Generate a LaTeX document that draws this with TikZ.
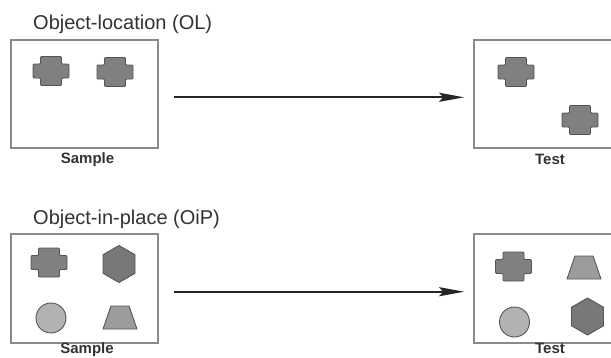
\documentclass[tikz,border=0pt]{standalone}
\usepackage{fontspec}
\setmainfont{Liberation Sans}
\usetikzlibrary{arrows.meta}

\definecolor{frame}{HTML}{8A8A8A}
\definecolor{edge}{HTML}{555555}
\definecolor{darkfill}{HTML}{808080}
\definecolor{hexfill}{HTML}{787878}
\definecolor{lightfill}{HTML}{B2B2B2}
\definecolor{trapfill}{HTML}{9C9C9C}
\definecolor{ink}{HTML}{333333}

\tikzset{
  panel/.style={draw=frame, line width=1.6pt, fill=white, inner sep=0pt},
  heading/.style={anchor=base west, inner sep=0pt, text=ink,
    font=\fontsize{20}{24}\selectfont},
  caption/.style={anchor=base, inner sep=0pt, text=ink,
    font=\fontsize{15}{18}\selectfont\bfseries},
  shapeline/.style={draw=edge, line width=0.9pt, line join=round},
  link/.style={draw=black!85, line width=2pt,
    -{Stealth[length=25pt,width=9pt,inset=4pt]}},
  pics/chip/.style={code={
    \path[shapeline, fill=darkfill, rounded corners=1pt]
      (-10.5,-14.5) -- (10.5,-14.5) -- (10.5,-7) -- (18,-7) -- (18,7)
      -- (10.5,7) -- (10.5,14.5) -- (-10.5,14.5) -- (-10.5,7) -- (-18,7)
      -- (-18,-7) -- (-10.5,-7) -- cycle;}},
  pics/hexa/.style={code={
    \path[shapeline, fill=hexfill]
      (0,-18.5) -- (16,-9.25) -- (16,9.25) -- (0,18.5) -- (-16,9.25)
      -- (-16,-9.25) -- cycle;}},
  pics/disc/.style={code={
    \path[shapeline, fill=lightfill] (0,0) circle[radius=15];}},
  pics/trap/.style={code={
    \path[shapeline, fill=trapfill]
      (-9,-11.5) -- (9,-11.5) -- (17,11.5) -- (-17,11.5) -- cycle;}},
}

\begin{document}
\begin{tikzpicture}[x=1pt, y=-1pt]
  \useasboundingbox[fill=white] (0,0) rectangle (611,357);

  % ---------- Object-location ----------
  \node[heading] (t-ol) at (33,29.3) {Object-location (OL)};
  \node[panel, minimum width=147pt, minimum height=108pt] (s1) at (84.5,94) {};
  \node[panel, minimum width=141pt, minimum height=108pt] (r1) at (544.5,94) {};
  \node[caption] (s1-cap) at (87.5,163.3) {Sample};
  \node[caption] (r1-cap) at (550,164) {Test};

  \pic at (51,71) {chip};
  \pic at (115,72) {chip};
  \pic at (516,72) {chip};
  \pic at (580,120) {chip};

  \draw[link, shorten <=15pt, shorten >=9pt]
    ([yshift=-3.3pt]s1.east) -- ([yshift=-3.3pt]r1.west);

  % ---------- Object-in-place ----------
  \node[heading] (t-oip) at (33,224.3) {Object-in-place (OiP)};
  \node[panel, minimum width=147pt, minimum height=109pt] (s2) at (84.5,288.5) {};
  \node[panel, minimum width=141pt, minimum height=109pt] (r2) at (544.5,288.5) {};
  \node[caption] (s2-cap) at (87,353.5) {Sample};
  \node[caption] (r2-cap) at (550,353.5) {Test};

  \pic at (49,262.5) {chip};
  \pic at (119,264) {hexa};
  \pic at (51,318) {disc};
  \pic at (120,317.5) {trap};

  \pic at (513.5,266.5) {chip};
  \pic at (584,267.5) {trap};
  \pic at (514.5,322) {disc};
  \pic at (587.5,316.5) {hexa};

  \draw[link, shorten <=15pt, shorten >=9pt]
    ([yshift=-3.2pt]s2.east) -- ([yshift=-3.2pt]r2.west);
\end{tikzpicture}
\end{document}
